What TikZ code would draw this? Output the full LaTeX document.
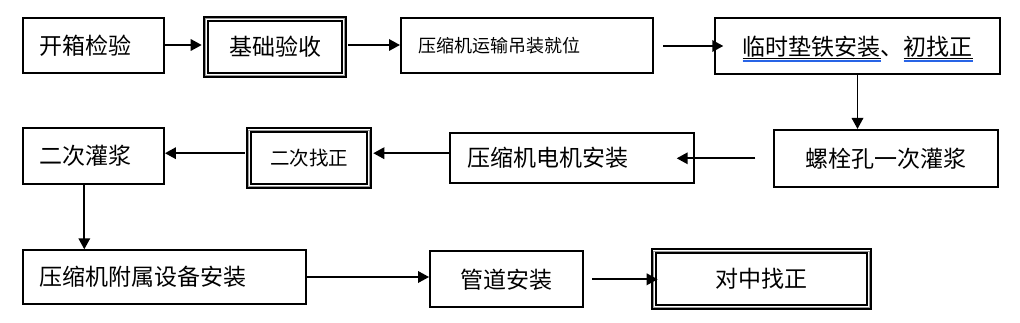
\documentclass[tikz,border=0pt]{standalone}
\usepackage{fontspec}
\setmainfont{Noto Sans CJK SC}
\usetikzlibrary{arrows.meta,calc}
\definecolor{ulblue}{RGB}{40,100,230}
\newcommand\wordul[1]{\setbox0=\hbox{#1}\rlap{\raisebox{-3.75pt}[0pt][0pt]{\rule{\wd0}{0.9pt}}}\rlap{\color{ulblue}\raisebox{-5.3pt}[0pt][0pt]{\rule{\wd0}{0.6pt}}}\rlap{\color{ulblue}\raisebox{-6.9pt}[0pt][0pt]{\rule{\wd0}{0.6pt}}}\box0}
\begin{document}
\begin{tikzpicture}[x=1pt,y=-1pt,
  box/.style={draw, line width=2pt, inner sep=0pt, font=\fontsize{23}{27}\selectfont},
  lbox/.style={box, align=left, inner xsep=17pt},
  dbox/.style={box, draw=white, preaction={draw=black,line width=6pt}, postaction={draw=black!40,line width=0.7pt}},
  arr/.style={line width=1.8pt, -{Triangle[length=11pt,width=11.5pt]}},
  todbl/.style={shorten >=3pt}]
\useasboundingbox (0,0) rectangle (1020,323);
% row 1
\node[lbox, text width=107.3pt, minimum height=55.3pt] (b1) at (93.3,45.3) {开箱检验};
\node[dbox, minimum width=138.6pt, minimum height=56.6pt] (b2) at (275,47) {基础验收};
\node[lbox, text width=218pt, minimum height=55.3pt, font=\fontsize{18}{22}\selectfont] (b3) at (527,45.3) {压缩机运输吊装就位};
\node[box, minimum width=284.4pt, minimum height=56pt] (b4) at (857.5,46.3) {\wordul{临时垫铁安装}、\wordul{初找正}};
% row 2
\node[box, minimum width=223.7pt, minimum height=56.7pt] (b5) at (886.2,158.3) {螺栓孔一次灌浆};
\node[lbox, text width=209.4pt, minimum height=49.7pt] (b6) at (572,158.2) {压缩机电机安装};
\node[dbox, minimum width=120.6pt, minimum height=55.7pt, font=\fontsize{19.5}{23}\selectfont] (b7) at (309,158.2) {二次找正};
\node[lbox, text width=107.3pt, minimum height=55.4pt] (b8) at (93.3,156) {二次灌浆};
% row 3
\node[lbox, text width=249pt, minimum height=53.4pt] (b9) at (164.2,277) {压缩机附属设备安装};
\node[box, minimum width=153.3pt, minimum height=56pt] (b10) at (506.7,279.3) {管道安装};
\node[dbox, minimum width=215.6pt, minimum height=55.7pt] (b11) at (761.5,279.2) {对中找正};
% connectors
\draw[arr, todbl] ([yshift=0.3pt]b1.east) -- ([yshift=0.3pt]b1.east -| b2.west);
\draw[arr] ([yshift=2pt,xshift=3pt]b2.east) -- ([yshift=2pt]b2.east -| b3.west);
\draw[arr] ([xshift=9pt,yshift=-0.7pt]b3.east) -- ([xshift=9pt,yshift=-0.7pt]b3.east -| b4.west);
\draw[arr] (b4.south) -- (b4.south |- b5.north);
\draw[arr] ([xshift=-18pt]b5.west) -- ([xshift=-18pt]b5.west -| b6.east);
\draw[arr, todbl] ([yshift=5pt]b6.west) -- ([yshift=5pt]b6.west -| b7.east);
\draw[arr] ([yshift=5pt,xshift=-3pt]b7.west) -- ([yshift=5pt]b7.west -| b8.east);
\draw[arr] ([xshift=-9pt]b8.south) -- ([xshift=-9pt]b8.south |- b9.north);
\draw[arr] (b9.east) -- (b9.east -| b10.west);
\draw[arr, todbl] ([xshift=8pt]b10.east) -- ([xshift=8pt]b10.east -| b11.west);
\end{tikzpicture}
\end{document}
